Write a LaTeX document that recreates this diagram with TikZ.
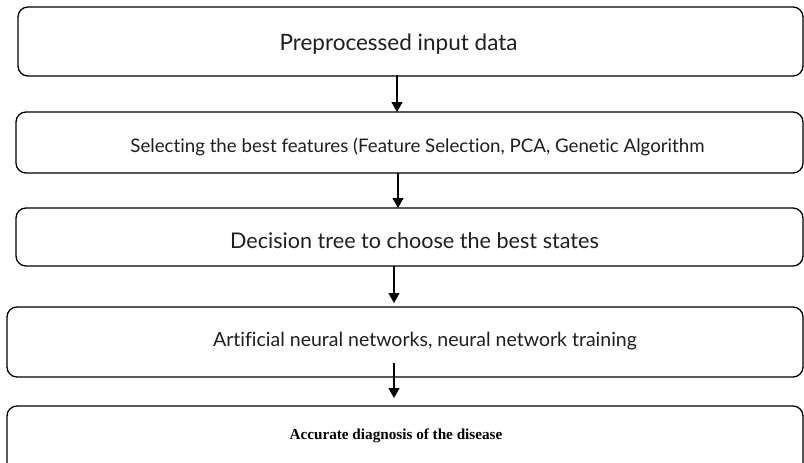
\documentclass[tikz,border=0pt]{standalone}
\usepackage{fontspec}
\setmainfont[Ligatures={NoCommon}]{Lato}
\newfontfamily\serifb{Liberation Serif}
\usetikzlibrary{arrows.meta}
\begin{document}
\begin{tikzpicture}[x=1pt,y=-1pt,
  box/.style={draw=black,line width=1.3pt,rounded corners=10pt},
  arr/.style={line width=1.2pt,-{Triangle[length=10pt,width=11pt]}}]
\clip (0,0) rectangle (804,463);
\fill[white] (0,0) rectangle (804,463);
\draw[box] (18,7) rectangle (803,76);
\draw[box] (16,112) rectangle (803,173);
\draw[box] (16,208) rectangle (803,266);
\draw[box] (7,307) rectangle (803,377);
\draw[box] (7,406) rectangle (803,480);
\node[text=black!88] (t1) at (398.5,44) {\fontsize{22.5}{26}\selectfont Preprocessed input data};
\node[text=black!88] (t2) at (417.5,147) {\fontsize{18.7}{22}\selectfont Selecting the best features (Feature Selection, PCA, Genetic Algorithm};
\node[text=black!88] (t3) at (414.5,241) {\fontsize{21.6}{24}\selectfont Decision tree to choose the best states};
\node[text=black!88] (t4) at (425,341) {\fontsize{19.5}{22}\selectfont Artificial neural networks, neural network training};
\node (t5) at (396,436) {\serifb\bfseries\fontsize{15.2}{18}\selectfont Accurate diagnosis of the disease};
\coordinate (a1s) at (397,75); \coordinate (a1e) at (397,112);
\coordinate (a2s) at (398,173); \coordinate (a2e) at (398,208);
\coordinate (a3s) at (394,266); \coordinate (a3e) at (394,303);
\coordinate (a4s) at (394,363); \coordinate (a4e) at (394,398);
\draw[arr] (a1s) -- (a1e);
\draw[arr] (a2s) -- (a2e);
\draw[arr] (a3s) -- (a3e);
\draw[arr] (a4s) -- (a4e);
\end{tikzpicture}
\end{document}
